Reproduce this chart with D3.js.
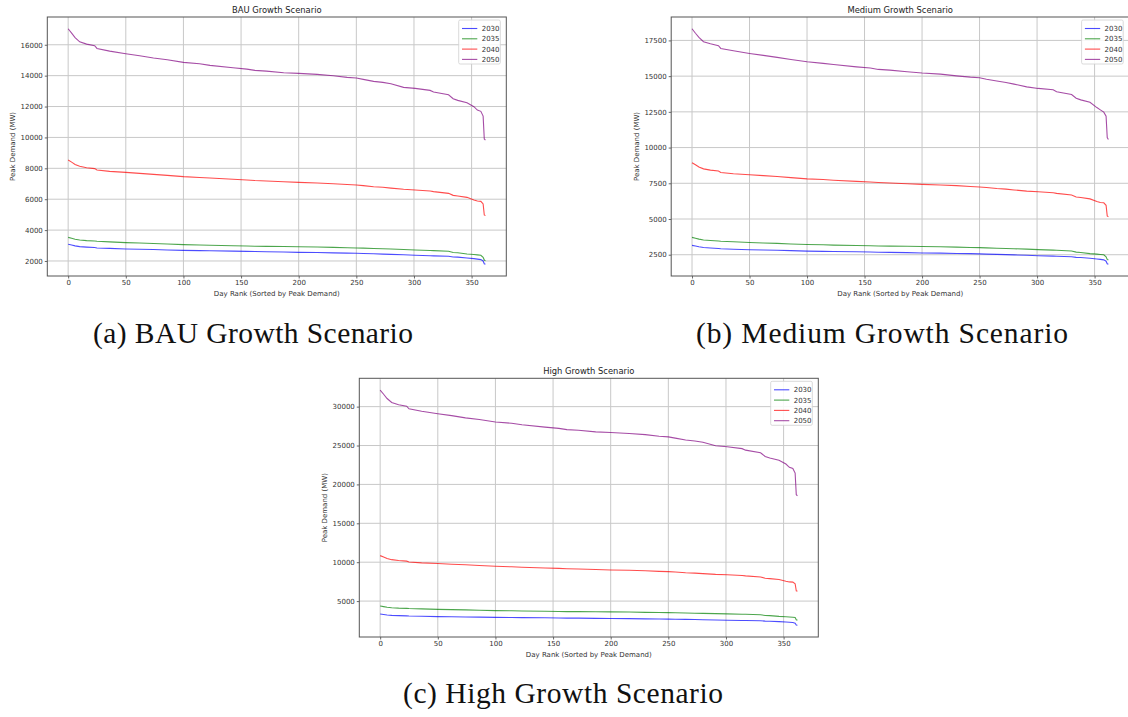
<!DOCTYPE html>
<html>
<head>
<meta charset="utf-8">
<script src="https://cdn.jsdelivr.net/npm/d3@7/dist/d3.min.js"></script>
<style>
  html, body { margin: 0; padding: 0; background: #fff; }
  svg { display: block; }
</style>
</head>
<body>
<svg id="fig" width="1128" height="717"></svg>
<script>
// Day rank (days sorted by peak demand, highest first)
const ranks = [0, 3, 6, 10, 16, 23, 25, 36, 50, 62, 74, 86, 100, 114, 123, 143, 155, 162, 172, 187,
  200, 216, 230, 242, 250, 256, 265, 273, 280, 291, 301, 314, 317, 330, 334, 338, 346, 352, 355, 358,
  360, 361, 362];

const years = ["2030", "2035", "2040", "2050"];
const yearColors = ["blue", "green", "red", "purple"];

// BAU growth scenario, peak demand (MW)
const bau2030 = [3080, 3030, 2980, 2930, 2900, 2870, 2845, 2815, 2780, 2760, 2740, 2715, 2690, 2670, 2660, 2640, 2625, 2610, 2600, 2580,
  2560, 2545, 2525, 2510, 2500, 2485, 2465, 2445, 2430, 2400, 2370, 2340, 2330, 2305, 2260, 2250, 2195, 2150, 2120, 2090,
  2000, 1820, 1790];
const bau2035 = [3530, 3470, 3410, 3360, 3320, 3290, 3275, 3240, 3190, 3160, 3130, 3095, 3060, 3035, 3015, 2990, 2970, 2955, 2945, 2935,
  2925, 2905, 2880, 2860, 2845, 2830, 2810, 2790, 2775, 2745, 2715, 2680, 2670, 2630, 2550, 2530, 2455, 2420, 2395, 2370,
  2240, 2060, 2020];
const bau2040 = [8540, 8400, 8250, 8130, 8040, 7980, 7890, 7805, 7740, 7675, 7610, 7540, 7460, 7410, 7370, 7290, 7245, 7210, 7180, 7130,
  7090, 7050, 7005, 6950, 6920, 6880, 6810, 6770, 6720, 6640, 6595, 6530, 6490, 6380, 6250, 6210, 6120, 5950, 5880, 5860,
  5690, 4980, 4935];
const bau2050 = [17035, 16750, 16460, 16190, 16040, 15935, 15760, 15590, 15420, 15290, 15140, 15030, 14860, 14770, 14665, 14510, 14425, 14340, 14295, 14190,
  14145, 14080, 13995, 13890, 13845, 13760, 13630, 13565, 13470, 13240, 13175, 13045, 12940, 12765, 12510, 12400, 12250, 11990, 11770, 11690,
  11380, 9900, 9830];

// Medium growth scenario, peak demand (MW)
const med2030 = [3155, 3105, 3055, 3005, 2975, 2940, 2915, 2885, 2850, 2830, 2810, 2785, 2755, 2735, 2725, 2705, 2690, 2675, 2665, 2645,
  2625, 2610, 2590, 2575, 2560, 2545, 2525, 2505, 2490, 2460, 2430, 2400, 2390, 2360, 2315, 2305, 2250, 2205, 2175, 2140,
  2050, 1865, 1835];
const med2035 = [3715, 3650, 3590, 3535, 3495, 3460, 3445, 3410, 3355, 3325, 3295, 3255, 3220, 3195, 3170, 3145, 3125, 3110, 3100, 3090,
  3075, 3055, 3030, 3010, 2995, 2980, 2955, 2935, 2920, 2890, 2855, 2820, 2810, 2765, 2680, 2660, 2580, 2545, 2520, 2495,
  2355, 2170, 2125];
const med2040 = [8940, 8795, 8640, 8510, 8420, 8355, 8260, 8170, 8100, 8035, 7970, 7895, 7810, 7760, 7715, 7635, 7585, 7550, 7515, 7465,
  7425, 7380, 7335, 7275, 7245, 7205, 7130, 7090, 7035, 6950, 6905, 6840, 6795, 6680, 6545, 6500, 6410, 6230, 6155, 6135,
  5960, 5210, 5165];
const med2050 = [18315, 18000, 17710, 17410, 17265, 17130, 16940, 16775, 16590, 16450, 16310, 16160, 16005, 15890, 15810, 15650, 15570, 15470, 15420, 15310,
  15215, 15140, 15020, 14930, 14890, 14780, 14660, 14560, 14440, 14250, 14140, 14050, 13910, 13710, 13450, 13340, 13170, 12800, 12640, 12480,
  12200, 10700, 10570];

// High growth scenario, peak demand (MW)
const high2030 = [3335, 3275, 3220, 3165, 3130, 3100, 3075, 3045, 3005, 2980, 2960, 2935, 2905, 2885, 2870, 2850, 2830, 2815, 2805, 2780,
  2760, 2740, 2715, 2700, 2685, 2670, 2645, 2625, 2610, 2575, 2545, 2510, 2500, 2470, 2420, 2410, 2355, 2310, 2275, 2240,
  2150, 1930, 1895];
const high2035 = [4360, 4285, 4210, 4150, 4100, 4065, 4045, 4000, 3940, 3905, 3865, 3820, 3780, 3750, 3725, 3695, 3670, 3650, 3640, 3625,
  3610, 3590, 3555, 3530, 3515, 3495, 3470, 3445, 3425, 3390, 3355, 3310, 3300, 3250, 3150, 3125, 3035, 2990, 2960, 2925,
  2880, 2600, 2525];
const high2040 = [10845, 10670, 10480, 10325, 10210, 10135, 10020, 9910, 9830, 9745, 9665, 9575, 9470, 9410, 9360, 9260, 9200, 9155, 9120, 9055,
  9005, 8955, 8895, 8825, 8790, 8740, 8650, 8600, 8535, 8435, 8380, 8295, 8240, 8100, 7940, 7885, 7770, 7555, 7465, 7440,
  7230, 6330, 6270];
const high2050 = [32130, 31590, 31040, 30530, 30250, 30050, 29720, 29400, 29080, 28840, 28550, 28350, 28030, 27860, 27660, 27360, 27200, 27045, 26960, 26760,
  26680, 26555, 26395, 26195, 26110, 25950, 25710, 25590, 25410, 24970, 24850, 24600, 24405, 24075, 23595, 23390, 23105, 22615, 22200, 22050,
  21460, 18670, 18540];

const xTicks = [0, 50, 100, 150, 200, 250, 300, 350];
const bauYTicks = [2000, 4000, 6000, 8000, 10000, 12000, 14000, 16000];
const medYTicks = [2500, 5000, 7500, 10000, 12500, 15000, 17500];
const highYTicks = [5000, 10000, 15000, 20000, 25000, 30000];

const panels = [
  { title: "BAU Growth Scenario", caption: "(a) BAU Growth Scenario",
    series: [bau2030, bau2035, bau2040, bau2050], yTicks: bauYTicks,
    box: { left: 47.3, top: 17, width: 459, height: 259 }, captionX: 253, captionY: 343, captionW: 320 },
  { title: "Medium Growth Scenario", caption: "(b) Medium Growth Scenario",
    series: [med2030, med2035, med2040, med2050], yTicks: medYTicks,
    box: { left: 671.2, top: 17, width: 458, height: 259 }, captionX: 882, captionY: 343, captionW: 372 },
  { title: "High Growth Scenario", caption: "(c) High Growth Scenario",
    series: [high2030, high2035, high2040, high2050], yTicks: highYTicks,
    box: { left: 359.3, top: 378.3, width: 459, height: 258.7 }, captionX: 563, captionY: 703, captionW: 320 }
];

const svg = d3.select("#fig");
const sans = "'DejaVu Sans', sans-serif";
const ink = "#333";

function drawPanel(p) {
  const b = p.box;
  const g = svg.append("g").attr("transform", `translate(${b.left},${b.top})`);

  const xMin = d3.min(ranks), xMax = d3.max(ranks);
  const xPad = (xMax - xMin) * 0.05;
  const x = d3.scaleLinear().domain([xMin - xPad, xMax + xPad]).range([0, b.width]);

  const all = p.series.flat();
  const yMin = d3.min(all), yMax = d3.max(all);
  const yPad = (yMax - yMin) * 0.05;
  const y = d3.scaleLinear().domain([yMin - yPad, yMax + yPad]).range([b.height, 0]);

  // grid
  g.append("g").selectAll("line").data(xTicks).join("line")
    .attr("x1", d => x(d)).attr("x2", d => x(d))
    .attr("y1", 0).attr("y2", b.height)
    .attr("stroke", "#c8c8c8").attr("stroke-width", 1);
  g.append("g").selectAll("line").data(p.yTicks).join("line")
    .attr("x1", 0).attr("x2", b.width)
    .attr("y1", d => y(d)).attr("y2", d => y(d))
    .attr("stroke", "#c8c8c8").attr("stroke-width", 1);

  // series lines
  const line = d3.line().x(d => x(d[0])).y(d => y(d[1]));
  p.series.forEach((vals, i) => {
    g.append("path")
      .datum(ranks.map((r, k) => [r, vals[k]]))
      .attr("d", line)
      .attr("fill", "none")
      .attr("stroke", yearColors[i])
      .attr("stroke-opacity", 0.7)
      .attr("stroke-width", 1.1);
  });

  // axes
  const xAxis = g.append("g").attr("transform", `translate(0,${b.height})`)
    .call(d3.axisBottom(x).tickValues(xTicks).tickSize(2.5).tickPadding(2).tickFormat(d3.format("d")));
  const yAxis = g.append("g")
    .call(d3.axisLeft(y).tickValues(p.yTicks).tickSize(2.5).tickPadding(2).tickFormat(d3.format("d")));
  [xAxis, yAxis].forEach(a => {
    a.select(".domain").remove();
    a.selectAll(".tick line").attr("stroke", "#444").attr("stroke-width", 0.8);
    a.selectAll(".tick text").attr("fill", ink).style("font-family", sans).style("font-size", "7px");
  });

  // frame
  g.append("rect").attr("x", 0).attr("y", 0).attr("width", b.width).attr("height", b.height)
    .attr("fill", "none").attr("stroke", "#555").attr("stroke-width", 1);

  // title and axis labels
  g.append("text").attr("x", b.width / 2).attr("y", -4)
    .attr("text-anchor", "middle").attr("fill", "#222")
    .style("font-family", sans).style("font-size", "8.4px").text(p.title);
  g.append("text").attr("x", b.width / 2).attr("y", b.height + 20.3)
    .attr("text-anchor", "middle").attr("fill", ink)
    .style("font-family", sans).style("font-size", "7px").text("Day Rank (Sorted by Peak Demand)");
  g.append("text")
    .attr("transform", `translate(${-32},${b.height / 2}) rotate(-90)`)
    .attr("text-anchor", "middle").attr("fill", ink)
    .style("font-family", sans).style("font-size", "7px").text("Peak Demand (MW)");

  // legend
  const lw = 41.6, lh = 44;
  const lg = g.append("g").attr("transform", `translate(${b.width - 6 - lw},3)`);
  lg.append("rect").attr("width", lw).attr("height", lh).attr("rx", 1.5)
    .attr("fill", "#fff").attr("fill-opacity", 0.85)
    .attr("stroke", "#d0d0d0").attr("stroke-width", 0.8);
  years.forEach((yr, i) => {
    const cy = 8.5 + i * 10.3;
    lg.append("line").attr("x1", 3.3).attr("x2", 18.6).attr("y1", cy).attr("y2", cy)
      .attr("stroke", yearColors[i]).attr("stroke-opacity", 0.7).attr("stroke-width", 1.1);
    lg.append("text").attr("x", 23).attr("y", cy).attr("dy", "0.35em")
      .attr("fill", ink).style("font-family", sans).style("font-size", "7px").text(yr);
  });

  // subfigure caption
  svg.append("text").attr("x", p.captionX).attr("y", p.captionY)
    .attr("text-anchor", "middle").attr("fill", "#111")
    .attr("textLength", p.captionW).attr("lengthAdjust", "spacing")
    .style("font-family", "'Liberation Serif', 'Times New Roman', serif")
    .style("font-size", "29.5px").text(p.caption);
}

panels.forEach(drawPanel);
</script>
</body>
</html>
